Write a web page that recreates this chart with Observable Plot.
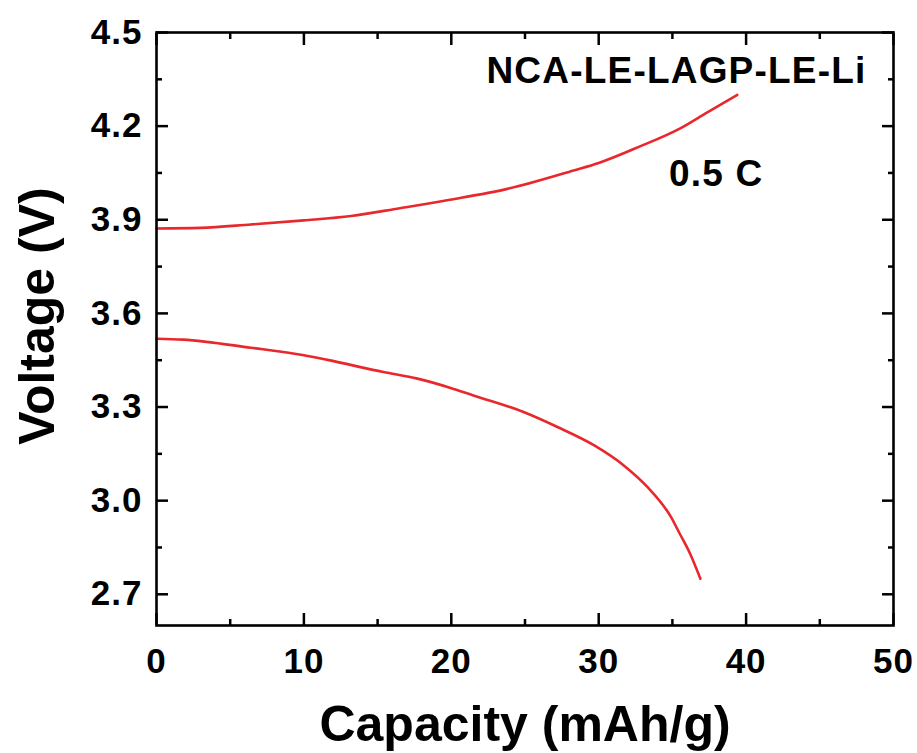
<!DOCTYPE html>
<html>
<head>
<meta charset="utf-8">
<script src="https://cdn.jsdelivr.net/npm/d3@7"></script>
<script src="https://cdn.jsdelivr.net/npm/@observablehq/plot@0.6"></script>
<style>
  html, body { margin: 0; padding: 0; background: #fff; }
  #chart svg { display: block; }
</style>
</head>
<body>
<div id="chart"></div>
<script>
// Charge curve (capacity in mAh/g, voltage in V)
const chargeCapacity = [0, 3.0, 6.4, 10, 13.2, 16.5, 19.9, 23.8, 28.3, 30, 32.8, 35.5, 37.4, 39.4];
const chargeVoltage  = [3.872, 3.874, 3.885, 3.898, 3.912, 3.937, 3.964, 3.999, 4.058, 4.082, 4.135, 4.192, 4.245, 4.300];

// Discharge curve
const dischargeCapacity = [0, 1.8, 6.4, 10, 11.6, 15.4, 17.7, 19.9, 21.5, 24.9, 27.2, 29.7, 31.7, 33.3, 34.9, 35.5, 36.2, 36.9];
const dischargeVoltage  = [3.519, 3.516, 3.490, 3.466, 3.451, 3.412, 3.391, 3.362, 3.337, 3.284, 3.236, 3.177, 3.113, 3.044, 2.948, 2.894, 2.830, 2.750];

// Axis ticks
const xMajor = [0, 10, 20, 30, 40, 50];
const xMinor = [5, 15, 25, 35, 45];
const yMajor = [2.7, 3.0, 3.3, 3.6, 3.9, 4.2, 4.5];
const yMinor = [2.85, 3.15, 3.45, 3.75, 4.05, 4.35];

const cellLabel = "NCA-LE-LAGP-LE-Li";
const rateLabel = "0.5 C";
const xTitle = "Capacity (mAh/g)";
const yTitle = "Voltage (V)";

const charge = chargeCapacity.map((c, i) => ({capacity: c, voltage: chargeVoltage[i]}));
const discharge = dischargeCapacity.map((c, i) => ({capacity: c, voltage: dischargeVoltage[i]}));

const red = "#e8282c";
const font = "'Liberation Sans', Arial, sans-serif";
const tickFont = 35;
const blank = () => "";

const chart = Plot.plot({
  width: 917,
  height: 753,
  marginLeft: 156,
  marginRight: 24,
  marginTop: 32,
  marginBottom: 128,
  style: {fontFamily: font, fontWeight: "bold", color: "#000", background: "#fff", overflow: "visible"},
  x: {domain: [0, 50]},
  y: {domain: [2.6, 4.5]},
  marks: [
    // data curves
    Plot.line(charge, {x: "capacity", y: "voltage", stroke: red, strokeWidth: 2.6, curve: "monotone-x"}),
    Plot.line(discharge, {x: "capacity", y: "voltage", stroke: red, strokeWidth: 2.6, curve: "monotone-x"}),

    // inward ticks on all four sides
    Plot.axisX({anchor: "bottom", ticks: xMajor, tickSize: 12, insetBottom: 12, tickFormat: blank, label: null, strokeWidth: 2.5}),
    Plot.axisX({anchor: "bottom", ticks: xMinor, tickSize: 6, insetBottom: 6, tickFormat: blank, label: null, strokeWidth: 2.5}),
    Plot.axisX({anchor: "top", ticks: xMajor, tickSize: 12, insetTop: 12, tickFormat: blank, label: null, strokeWidth: 2.5}),
    Plot.axisX({anchor: "top", ticks: xMinor, tickSize: 6, insetTop: 6, tickFormat: blank, label: null, strokeWidth: 2.5}),
    Plot.axisY({anchor: "left", ticks: yMajor, tickSize: 12, insetLeft: 12, tickFormat: blank, label: null, strokeWidth: 2.5}),
    Plot.axisY({anchor: "left", ticks: yMinor, tickSize: 6, insetLeft: 6, tickFormat: blank, label: null, strokeWidth: 2.5}),
    Plot.axisY({anchor: "right", ticks: yMajor, tickSize: 12, insetRight: 12, tickFormat: blank, label: null, strokeWidth: 2.5}),
    Plot.axisY({anchor: "right", ticks: yMinor, tickSize: 6, insetRight: 6, tickFormat: blank, label: null, strokeWidth: 2.5}),

    // tick labels
    Plot.axisX({anchor: "bottom", ticks: xMajor, tickSize: 0, tickPadding: 23, tickFormat: d3.format("d"), label: null, fontSize: tickFont}),
    Plot.axisY({anchor: "left", ticks: yMajor, tickSize: 0, tickPadding: 14, tickFormat: d3.format(".1f"), label: null, fontSize: tickFont}),

    // axis titles
    Plot.text([xTitle], {frameAnchor: "bottom", dy: 99, fontSize: 50, lineAnchor: "middle"}),
    Plot.text([yTitle], {frameAnchor: "left", textAnchor: "middle", dx: -119, dy: -13, rotate: -90, fontSize: 50, lineAnchor: "middle"}),

    // annotations
    Plot.text([cellLabel], {frameAnchor: "top-right", textAnchor: "end", lineAnchor: "bottom", dx: -27, dy: 50, fontSize: 37}),
    Plot.text([rateLabel], {frameAnchor: "top-right", textAnchor: "end", lineAnchor: "bottom", dx: -130, dy: 153, fontSize: 37}),

    Plot.frame({stroke: "#000", strokeWidth: 2.6})
  ]
});

// slightly wider letter spacing for the heavy labels
d3.select(chart).selectAll("text").each(function () {
  const t = this.textContent;
  if (t === cellLabel || t === rateLabel) this.style.letterSpacing = "1.2px";
});
d3.select(chart).selectAll('g[aria-label$="tick label"] text').style("letter-spacing", "1px");

document.getElementById("chart").append(chart);
</script>
</body>
</html>
